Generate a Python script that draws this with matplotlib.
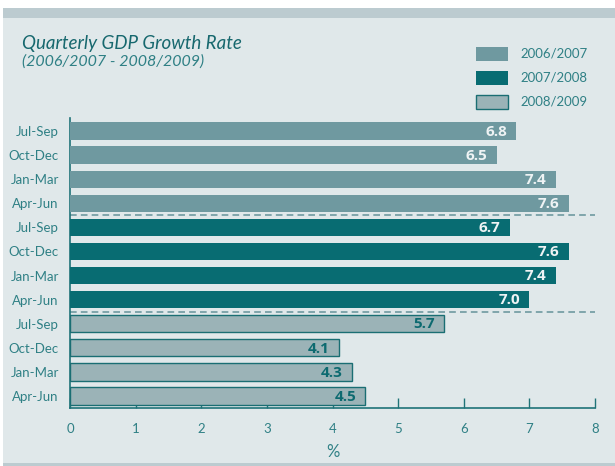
import matplotlib.pyplot as plt
from matplotlib.patches import Rectangle

# Datos
trimestres = ["Jul-Sep", "Oct-Dec", "Jan-Mar", "Apr-Jun"]
periodos = ["2006/2007", "2007/2008", "2008/2009"]
valores_0607 = [6.8, 6.5, 7.4, 7.6]
valores_0708 = [6.7, 7.6, 7.4, 7.0]
valores_0809 = [5.7, 4.1, 4.3, 4.5]
xticks = [0, 1, 2, 3, 4, 5, 6, 7, 8]

TEAL = "#1f7378"
TEXT = "#2f8085"
colores = ["#6f99a0", "#086c72", "#9bb3b7"]
bordes = ["#6f99a0", "#086c72", "#1a6e73"]
color_etiqueta = ["#eef3f4", "#eef3f4", "#0d6a70"]

plt.rcParams["font.family"] = ["Lato", "DejaVu Sans"]

W, H = 615, 466
fig = plt.figure(figsize=(W / 100, H / 100), dpi=100)
fig.patch.set_facecolor("white")

# Panel de fondo y bandas
def rect_px(x0, y0, x1, y1, color):
    fig.patches.append(Rectangle((x0 / W, 1 - y1 / H), (x1 - x0) / W, (y1 - y0) / H,
                                 transform=fig.transFigure, facecolor=color,
                                 edgecolor="none", zorder=-10))

rect_px(3, 8, W, H, "#e0e8ea")
rect_px(3, 8, W, 18, "#bccbd0")
rect_px(3, 463, W, H, "#bccbd0")

ax = fig.add_axes([70 / W, 1 - 408 / H, (595 - 70) / W, (408 - 118) / H])
ax.set_facecolor("none")

grupos = [valores_0607, valores_0708, valores_0809]
pos = 0
for g, vals in enumerate(grupos):
    for q, v in zip(trimestres, vals):
        ax.barh(pos, v, height=0.72, color=colores[g], edgecolor=bordes[g],
                linewidth=1.0 if g == 2 else 0, zorder=3)
        ax.text(v - 0.14, pos + 0.03, f"{v:.1f}", ha="right", va="center",
                fontsize=11, fontweight="bold", color=color_etiqueta[g],
                family=["Open Sans", "DejaVu Sans"], zorder=4)
        pos += 1

# Separadores
for s in (3.5, 7.5):
    ax.plot([0, 8], [s, s], color="#6f99a0", linestyle=(0, (4, 2.5)),
            linewidth=1.2, clip_on=False)

ax.set_xlim(0, 8)
ax.set_ylim(11.5, -0.54)
ax.set_yticks(range(12))
ax.set_yticklabels(trimestres * 3, fontsize=9.5, color=TEXT)
ax.tick_params(axis="y", length=0, pad=8)
ax.set_xticks(xticks)
ax.set_xticklabels([str(t) for t in xticks], fontsize=9.5, color=TEXT)
ax.tick_params(axis="x", direction="in", length=7, width=1, color=TEAL, pad=11)
ax.set_xlabel("%", fontsize=12, color=TEXT, labelpad=6)

for sp in ("top", "right"):
    ax.spines[sp].set_visible(False)
for sp in ("left", "bottom"):
    ax.spines[sp].set_color(TEAL)
    ax.spines[sp].set_linewidth(1.2)

# Títulos
fig.text(22 / W, 1 - 43 / H, "Quarterly GDP Growth Rate", fontsize=13.5,
         style="italic", color="#17686e", va="center", ha="left")
fig.text(22 / W, 1 - 62 / H, "(2006/2007 - 2008/2009)", fontsize=11.5,
         style="italic", color=TEXT, va="center", ha="left")

# Leyenda
for i, per in enumerate(periodos):
    yc = 54 + 24 * i
    fig.patches.append(Rectangle((476 / W, 1 - (yc + 7) / H), 32 / W, 14 / H,
                                 transform=fig.transFigure, facecolor=colores[i],
                                 edgecolor=bordes[i], linewidth=1.0 if i == 2 else 0))
    fig.text(520 / W, 1 - yc / H, per, fontsize=9.5, color=TEXT,
             va="center", ha="left")

plt.savefig("out.png", dpi=100)
